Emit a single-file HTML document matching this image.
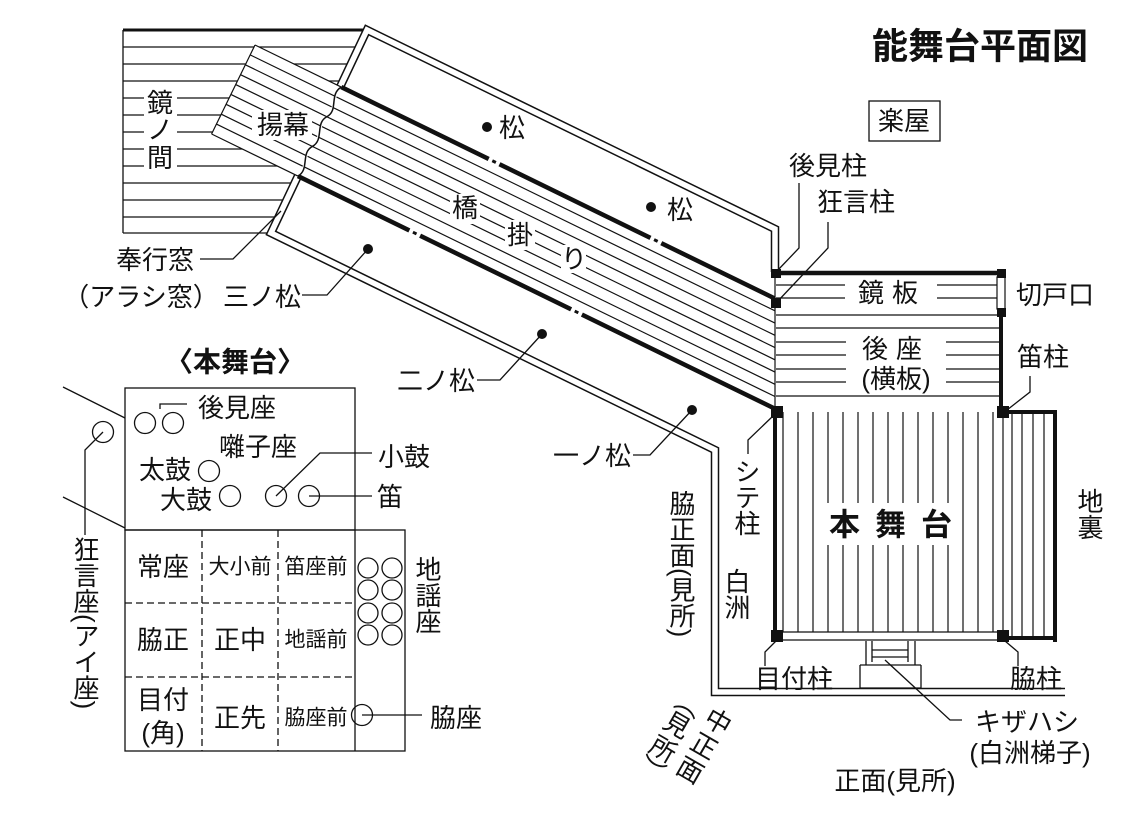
<!DOCTYPE html>
<html><head><meta charset="utf-8"><style>
html,body{margin:0;padding:0;background:#fff;}
svg{display:block;}
text{font-family:"Liberation Sans","Noto Sans CJK JP",sans-serif;fill:#111;}
.v{writing-mode:vertical-rl;}
</style></head><body>
<svg width="1123" height="818" viewBox="0 0 1123 818" xmlns="http://www.w3.org/2000/svg">
<defs><clipPath id="cl"><rect x="0" y="0" width="776" height="818"/></clipPath></defs>
<g stroke="#111" fill="none" stroke-width="1.3">
<path d="M123,30H367 M123,47H359 M123,64H351 M123,81H344 M123,98H336 M123,115H328 M123,132H320 M123,149H313 M123,166H305 M123,183H297 M123,200H290 M123,217H282 M123,233H274 M123,30V233"/>
<path d="M123,30H367" stroke-width="3"/>
<path d="M1065,692 L715,692 L715,450 L271,233 L367,30 L775,229 L775,272" stroke-width="8.5" stroke-linejoin="miter"/>
<path d="M1065,692 L715,692 L715,450 L271,233 L367,30 L775,229 L775,272" stroke="#fff" stroke-width="5.5" stroke-linejoin="miter"/>
</g>
<g clip-path="url(#cl)">
<g transform="translate(255,45) rotate(26)" stroke="#111" fill="none">
<rect x="0" y="0" width="720" height="99" fill="#fff" stroke="none"/>
<path stroke-width="1.2" d="M0,11H720 M0,22H720 M0,33H720 M0,44H720 M0,55H720 M0,66H720 M0,77H720 M0,88H720 M0,0V99 M0,0H96 M0,99H96"/>
<path stroke-width="4.5" d="M96,0H720 M96,99H720"/>
<path stroke-width="1.5" fill="#fff" d="M96,0 C88,12 104,22 96,33 C88,44 104,55 96,66 C88,77 104,88 96,99"/>
<path stroke="#fff" stroke-width="6" d="M260,0h12 M440,0h12 M220,99h12 M400,99h12"/>
<path stroke-width="3" d="M264,0h4 M444,0h4 M224,99h4 M404,99h4"/>
</g></g>
<g fill="#fff">
<rect x="144" y="88" width="33" height="84"/>
<rect x="252" y="110" width="60" height="30"/>
<rect x="450" y="194" width="30" height="30"/>
<rect x="505" y="220" width="30" height="30"/>
<rect x="561" y="245" width="25" height="28"/>
</g>
<g stroke="#111" fill="none">
<rect x="775" y="272" width="228" height="140" fill="#fff" stroke="none"/>
<path stroke-width="1.2" d="M776,285H1000 M776,298H1000 M776,315H1000 M776,328H1000 M776,342H1000 M776,355H1000 M776,369H1000 M776,382H1000 M776,396H1000 M775,272V412"/>
<rect x="845" y="277" width="92" height="32" fill="#fff" stroke="none"/>
<rect x="846" y="333" width="100" height="62" fill="#fff" stroke="none"/>
<path stroke-width="4.5" d="M773,273H1005"/>
<rect x="997" y="277" width="8" height="32" fill="#fff" stroke-width="1.2"/>
<path stroke-width="4" d="M1001,309V412"/>
<rect x="775" y="412" width="228" height="228" fill="#fff" stroke="none"/>
<path stroke-width="1.2" d="M783,412V632 M798,412V632 M813,412V632 M828,412V632 M843,412V632 M858,412V632 M873,412V632 M888,412V632 M903,412V632 M918,412V632 M933,412V632 M948,412V632 M963,412V632 M978,412V632 M993,412V632 M1003,412V640 M775,632H1003 M775,640H1003"/>
<rect x="822" y="503" width="140" height="42" fill="#fff" stroke="none"/>
<path stroke-width="4" d="M775,412V640"/>
<path stroke-width="1.2" d="M1012,412V638 M1022,412V638 M1033,412V638 M1044,412V638"/>
<path stroke-width="4" d="M1003,412H1057 M1055,410V642 M1003,638H1057"/>
<path stroke-width="1.3" d="M866,641V665 M872,641V662 M908,641V662 M915,641V665 M872,650H908 M872,657H908 M860,665H866 M915,665H921 M860,665V688 M921,665V688 M860,688H921 M866,665H915"/>
</g>
<g fill="#111">
<rect x="771" y="269" width="10" height="9"/>
<rect x="771" y="298" width="10" height="10"/>
<rect x="997" y="269" width="9" height="9"/>
<rect x="997" y="308" width="9" height="9"/>
<rect x="771" y="406" width="12" height="12"/>
<rect x="997" y="406" width="12" height="12"/>
<rect x="771" y="630" width="12" height="12"/>
<rect x="997" y="630" width="12" height="12"/>
<circle cx="487" cy="127" r="5"/><circle cx="651" cy="207" r="5"/>
<circle cx="368" cy="249" r="5"/><circle cx="542" cy="334" r="5"/><circle cx="692" cy="410" r="5"/>
</g>
<g stroke="#111" fill="none" stroke-width="1.3">
<path d="M200,259H233L281,211"/>
<path d="M302,295H327L368,249"/>
<path d="M477,380H500L542,334"/>
<path d="M633,455H650L692,410"/>
<path d="M799,183V248L778,270"/>
<path d="M828,222V248L777,302"/>
<path d="M1030,376V392L1007,410"/>
<path d="M773,416L748,440V454"/>
<path d="M776,641L765,652V666"/>
<path d="M1005,641L1018,652V666"/>
<path d="M885,660L950,720H962"/>
<rect x="869" y="101" width="71" height="40"/>
</g>
<g font-size="26" dominant-baseline="central" text-anchor="middle">
<text x="160" y="103">鏡</text><text x="160" y="130">ノ</text><text x="160" y="158">間</text>
<text x="283" y="125">揚幕</text>
<text x="512" y="128">松</text><text x="680" y="210">松</text>
<text x="465" y="208">橋</text><text x="520" y="235">掛</text><text x="574" y="259">り</text>
<text x="155" y="260">奉行窓</text>
<text x="141" y="297">（アラシ窓）</text>
<text x="262" y="297">三ノ松</text>
<text x="436" y="381">二ノ松</text>
<text x="592" y="456">一ノ松</text>
<text x="904" y="121">楽屋</text>
<text x="828" y="166">後見柱</text>
<text x="856" y="202">狂言柱</text>
<text x="892" y="293" letter-spacing="8">鏡板</text>
<text x="1055" y="295">切戸口</text>
<text x="896" y="349" letter-spacing="8">後座</text>
<text x="896" y="379">(横板)</text>
<text x="1043" y="357">笛柱</text>
<text x="794" y="679">目付柱</text>
<text x="1036" y="679">脇柱</text>
<text x="1027" y="722">キザハシ</text>
<text x="1030" y="753">(白洲梯子)</text>
<text x="895" y="781">正面(見所)</text>
</g>
<text x="898" y="525" font-size="31" font-weight="bold" text-anchor="middle" dominant-baseline="central" letter-spacing="15">本舞台</text>
<text x="980" y="46" font-size="36" font-weight="bold" text-anchor="middle" dominant-baseline="central">能舞台平面図</text>
<g font-size="26">
<text x="746" y="458" class="v">シテ柱</text>
<text x="736" y="568" class="v">白洲</text>
<text x="681" y="490" class="v">脇正面(見所)</text>
<text x="1089" y="488" class="v">地裏</text>
</g>
<g font-size="26" text-anchor="middle" dominant-baseline="central">
<g transform="translate(718,722) rotate(30)"><text x="0" y="0">中</text><text x="0" y="28">正</text><text x="0" y="56">面</text></g>
<g transform="translate(688,706) rotate(30)"><text x="0" y="-2">︵</text><text x="0" y="22">見</text><text x="0" y="50">所</text><text x="0" y="74">︶</text></g>
</g>
<g stroke="#111" fill="none" stroke-width="1.3">
<rect x="125" y="388" width="230" height="142"/>
<rect x="125" y="530" width="280" height="221"/>
<path d="M355,530V751"/>
<path stroke-dasharray="7,4" d="M202,530V751 M278,530V751 M125,603H355 M125,677H355"/>
<path d="M63,387L125,418 M63,497L125,528"/>
<circle cx="145" cy="423" r="10.5"/><circle cx="173" cy="423" r="10.5"/>
<path d="M160,409V404H187"/>
<circle cx="103" cy="432" r="10.5"/>
<path d="M103,432L85,450V535"/>
<circle cx="209" cy="471" r="10.5"/>
<circle cx="230" cy="496" r="10.5"/>
<circle cx="276" cy="496" r="10.5"/>
<path d="M276,496L320,453H372"/>
<circle cx="309" cy="496" r="10.5"/>
<path d="M309,496H372"/>
<circle cx="368" cy="568" r="10"/><circle cx="392" cy="568" r="10"/>
<circle cx="368" cy="590" r="10"/><circle cx="392" cy="590" r="10"/>
<circle cx="368" cy="613" r="10"/><circle cx="392" cy="613" r="10"/>
<circle cx="368" cy="635" r="10"/><circle cx="392" cy="635" r="10"/>
<circle cx="362" cy="715" r="10.5"/>
<path d="M362,715H422"/>
</g>
<text x="235" y="362" font-size="28" font-weight="bold" text-anchor="middle" dominant-baseline="central">〈本舞台〉</text>
<g font-size="26" text-anchor="middle" dominant-baseline="central">
<text x="237" y="408">後見座</text>
<text x="258" y="447">囃子座</text>
<text x="165" y="470">太鼓</text>
<text x="186" y="500">大鼓</text>
<text x="404" y="457">小鼓</text>
<text x="390" y="497">笛</text>
<text x="163" y="567">常座</text>
<text x="240" y="567" font-size="21">大小前</text>
<text x="316" y="567" font-size="21">笛座前</text>
<text x="163" y="640">脇正</text>
<text x="240" y="640">正中</text>
<text x="316" y="640" font-size="21">地謡前</text>
<text x="163" y="700">目付</text>
<text x="163" y="733">(角)</text>
<text x="240" y="718">正先</text>
<text x="316" y="718" font-size="21">脇座前</text>
<text x="456" y="718">脇座</text>
</g>
<g font-size="26">
<text x="427" y="556" class="v">地謡座</text>
<text x="85" y="536" class="v">狂言座(アイ座)</text>
</g>
</svg>
</body></html>
